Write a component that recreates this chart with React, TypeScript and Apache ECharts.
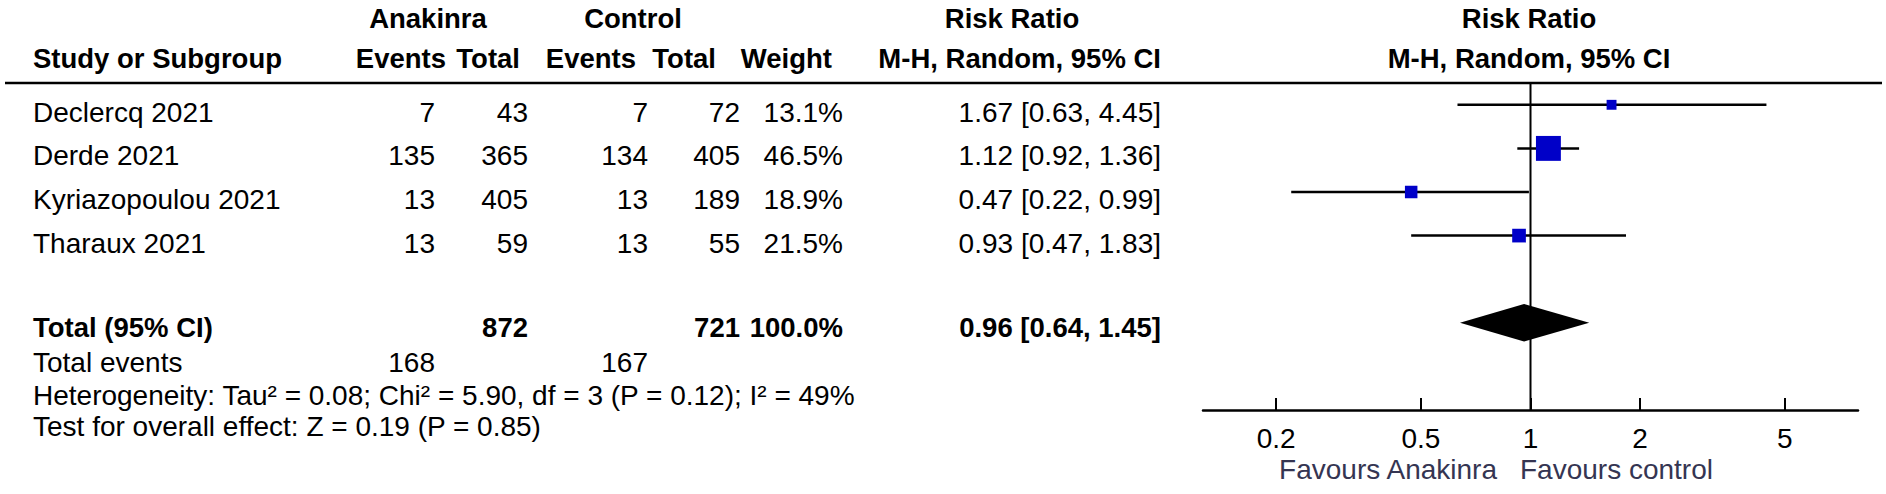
import React, { useEffect, useRef } from "react";
import * as echarts from "echarts";

// ---------- data ----------
const studies = ["Declercq 2021", "Derde 2021", "Kyriazopoulou 2021", "Tharaux 2021"];
const anakinraEvents = [7, 135, 13, 13];
const anakinraTotal = [43, 365, 405, 59];
const controlEvents = [7, 134, 13, 13];
const controlTotal = [72, 405, 189, 55];
const weights = [13.1, 46.5, 18.9, 21.5];
const riskRatio = [1.67, 1.12, 0.47, 0.93];
const ciLower = [0.63, 0.92, 0.22, 0.47];
const ciUpper = [4.45, 1.36, 0.99, 1.83];

const pooled = [0.96, 0.64, 1.45]; // RR, lower, upper
const totalAnakinra = 872;
const totalControl = 721;
const totalWeight = 100.0;
const totalEventsAnakinra = 168;
const totalEventsControl = 167;
const heterogeneityText = "Heterogeneity: Tau² = 0.08; Chi² = 5.90, df = 3 (P = 0.12); I² = 49%";
const overallEffectText = "Test for overall effect: Z = 0.19 (P = 0.85)";
const axisTicks = [0.2, 0.5, 1, 2, 5];
const favoursLeft = "Favours Anakinra";
const favoursRight = "Favours control";

// ---------- layout ----------
const W = 1886;
const H = 494;
const FONT = '"Liberation Sans", Arial, sans-serif';
const FS = 28;
const FS_BOLD = 27.5;
const RULE_Y = 83;
const PLOT_LEFT = 1203;
const PLOT_W = 655;
const PLOT_H = 327;
const ROW_MIN = -0.5;
const ROW_MAX = 7;
const ROW_PX = PLOT_H / (ROW_MAX - ROW_MIN);
const LOG_MIN = -0.9;
const LOG_MAX = 0.9;

// header anchors
const HX = {
  study: 33,
  aEv: 446,
  aTot: 520,
  cEv: 636,
  cTot: 716,
  weight: 832,
  ci: 1161,
  anakinra: 428,
  control: 633,
  rr: 1012,
  plot: 1529,
};
// value anchors
const VX = {
  study: 33,
  aEv: 435,
  aTot: 528,
  cEv: 648,
  cTot: 740,
  weight: 843,
  ci: 1161,
  favL: 1497,
  favR: 1520,
};
const R = {
  head1: -1.97,
  head2: -1.07,
  studyOffset: 0.17,
  total: 5.1,
  totalEvents: 5.92,
  het: 6.66,
  test: 7.37,
  fav: 8.36,
};
const POOLED_ROW = 5;

type Cell = { x: number; row: number; text: string; align: "left" | "right" | "center"; bold?: boolean; color?: string };

const fmtCI = (r: number, l: number, u: number) => `${r.toFixed(2)} [${l.toFixed(2)}, ${u.toFixed(2)}]`;

function buildCells(): Cell[] {
  const c: Cell[] = [];
  c.push({ x: HX.anakinra, row: R.head1, text: "Anakinra", align: "center", bold: true });
  c.push({ x: HX.control, row: R.head1, text: "Control", align: "center", bold: true });
  c.push({ x: HX.rr, row: R.head1, text: "Risk Ratio", align: "center", bold: true });
  c.push({ x: HX.plot, row: R.head1, text: "Risk Ratio", align: "center", bold: true });
  c.push({ x: HX.study, row: R.head2, text: "Study or Subgroup", align: "left", bold: true });
  c.push({ x: HX.aEv, row: R.head2, text: "Events", align: "right", bold: true });
  c.push({ x: HX.aTot, row: R.head2, text: "Total", align: "right", bold: true });
  c.push({ x: HX.cEv, row: R.head2, text: "Events", align: "right", bold: true });
  c.push({ x: HX.cTot, row: R.head2, text: "Total", align: "right", bold: true });
  c.push({ x: HX.weight, row: R.head2, text: "Weight", align: "right", bold: true });
  c.push({ x: HX.ci, row: R.head2, text: "M-H, Random, 95% CI", align: "right", bold: true });
  c.push({ x: HX.plot, row: R.head2, text: "M-H, Random, 95% CI", align: "center", bold: true });
  studies.forEach((s, i) => {
    const row = i + R.studyOffset;
    c.push({ x: VX.study, row, text: s, align: "left" });
    c.push({ x: VX.aEv, row, text: String(anakinraEvents[i]), align: "right" });
    c.push({ x: VX.aTot, row, text: String(anakinraTotal[i]), align: "right" });
    c.push({ x: VX.cEv, row, text: String(controlEvents[i]), align: "right" });
    c.push({ x: VX.cTot, row, text: String(controlTotal[i]), align: "right" });
    c.push({ x: VX.weight, row, text: `${weights[i].toFixed(1)}%`, align: "right" });
    c.push({ x: VX.ci, row, text: fmtCI(riskRatio[i], ciLower[i], ciUpper[i]), align: "right" });
  });
  c.push({ x: VX.study, row: R.total, text: "Total (95% CI)", align: "left", bold: true });
  c.push({ x: VX.aTot, row: R.total, text: String(totalAnakinra), align: "right", bold: true });
  c.push({ x: VX.cTot, row: R.total, text: String(totalControl), align: "right", bold: true });
  c.push({ x: VX.weight, row: R.total, text: `${totalWeight.toFixed(1)}%`, align: "right", bold: true });
  c.push({ x: VX.ci, row: R.total, text: fmtCI(pooled[0], pooled[1], pooled[2]), align: "right", bold: true });
  c.push({ x: VX.study, row: R.totalEvents, text: "Total events", align: "left" });
  c.push({ x: VX.aEv, row: R.totalEvents, text: String(totalEventsAnakinra), align: "right" });
  c.push({ x: VX.cEv, row: R.totalEvents, text: String(totalEventsControl), align: "right" });
  c.push({ x: VX.study, row: R.het, text: heterogeneityText, align: "left" });
  c.push({ x: VX.study, row: R.test, text: overallEffectText, align: "left" });
  c.push({ x: VX.favL, row: R.fav, text: favoursLeft, align: "right", color: "#353552" });
  c.push({ x: VX.favR, row: R.fav, text: favoursRight, align: "left", color: "#353552" });
  return c;
}

const fmtTick = (v: number) => String(Number(Math.pow(10, v).toPrecision(6)));

export default function App() {
  const ref = useRef<HTMLDivElement>(null);
  useEffect(() => {
    if (!ref.current) return;
    const chart = echarts.init(ref.current, undefined, { renderer: "svg" });
    const cells = buildCells();
    const tableYMin = ROW_MIN - RULE_Y / ROW_PX;
    const tableYMax = tableYMin + H / ROW_PX;
    const tickVals = axisTicks.map((t) => Math.log10(t));

    const option: any = {
      animation: false,
      backgroundColor: "#ffffff",
      grid: [
        { left: PLOT_LEFT, top: RULE_Y, width: PLOT_W, height: PLOT_H, containLabel: false },
        { left: 0, top: 0, width: W, height: H, containLabel: false },
      ],
      xAxis: [
        {
          type: "value",
          gridIndex: 0,
          min: LOG_MIN,
          max: LOG_MAX,
          splitLine: { show: false },
          axisLine: { show: true, onZero: false, lineStyle: { color: "#000", width: 2.5 } },
          axisTick: {
            show: true,
            inside: true,
            length: 12,
            customValues: tickVals,
            lineStyle: { color: "#000", width: 2 },
          },
          axisLabel: {
            show: true,
            customValues: tickVals,
            formatter: (v: number) => fmtTick(v),
            color: "#000",
            fontSize: FS,
            fontFamily: FONT,
            margin: 14,
          },
        },
        { type: "value", gridIndex: 1, min: 0, max: W, show: false },
      ],
      yAxis: [
        { type: "value", gridIndex: 0, min: ROW_MIN, max: ROW_MAX, inverse: true, show: false },
        { type: "value", gridIndex: 1, min: tableYMin, max: tableYMax, inverse: true, show: false },
      ],
      graphic: [
        {
          type: "line",
          shape: { x1: 5, y1: RULE_Y, x2: 1882, y2: RULE_Y },
          style: { stroke: "#000", lineWidth: 2.5 },
          z: 10,
        },
      ],
      series: [
        {
          type: "line",
          xAxisIndex: 0,
          yAxisIndex: 0,
          data: [
            [0, ROW_MIN],
            [0, ROW_MAX],
          ],
          symbol: "none",
          lineStyle: { color: "#000", width: 2 },
          silent: true,
          z: 2,
        },
        {
          type: "custom",
          xAxisIndex: 0,
          yAxisIndex: 0,
          clip: false,
          encode: { x: [0, 1, 2], y: 3 },
          data: studies.map((_, i) => [
            Math.log10(ciLower[i]),
            Math.log10(ciUpper[i]),
            Math.log10(riskRatio[i]),
            i,
            weights[i],
          ]),
          renderItem: (params: any, api: any) => {
            const row = api.value(3);
            const lo = api.coord([api.value(0), row]);
            const hi = api.coord([api.value(1), row]);
            const c = api.coord([api.value(2), row]);
            const s = 4 + 0.45 * api.value(4);
            return {
              type: "group",
              children: [
                {
                  type: "line",
                  shape: { x1: lo[0], y1: lo[1], x2: hi[0], y2: hi[1] },
                  style: { stroke: "#000", lineWidth: 2.5 },
                },
                {
                  type: "rect",
                  shape: { x: c[0] - s / 2, y: c[1] - s / 2, width: s, height: s },
                  style: { fill: "#0000c8" },
                },
              ],
            };
          },
          z: 3,
        },
        {
          type: "custom",
          xAxisIndex: 0,
          yAxisIndex: 0,
          clip: false,
          encode: { x: [0, 1, 2], y: 3 },
          data: [[Math.log10(pooled[1]), Math.log10(pooled[2]), Math.log10(pooled[0]), POOLED_ROW]],
          renderItem: (params: any, api: any) => {
            const row = api.value(3);
            const lo = api.coord([api.value(0), row]);
            const hi = api.coord([api.value(1), row]);
            const c = api.coord([api.value(2), row]);
            const h = api.size([0, 0.43])[1];
            return {
              type: "polygon",
              shape: {
                points: [
                  [lo[0], lo[1]],
                  [c[0], c[1] - h],
                  [hi[0], hi[1]],
                  [c[0], c[1] + h],
                ],
              },
              style: { fill: "#000" },
            };
          },
          z: 3,
        },
        {
          type: "custom",
          xAxisIndex: 1,
          yAxisIndex: 1,
          clip: false,
          encode: { x: 0, y: 1 },
          data: cells.map((c) => [c.x, c.row]),
          renderItem: (params: any, api: any) => {
            const c = cells[params.dataIndex];
            const p = api.coord([api.value(0), api.value(1)]);
            return {
              type: "text",
              x: p[0],
              y: p[1],
              style: {
                text: c.text,
                align: c.align,
                verticalAlign: "middle",
                textAlign: c.align,
                textVerticalAlign: "middle",
                fontSize: c.bold ? FS_BOLD : FS,
                fontWeight: c.bold ? "bold" : "normal",
                fontFamily: FONT,
                fill: c.color || "#000",
              },
            };
          },
          z: 5,
        },
      ],
    };
    chart.setOption(option);
    return () => chart.dispose();
  }, []);
  return <div ref={ref} style={{ position: "fixed", left: 0, top: 0, width: W, height: H }} />;
}
